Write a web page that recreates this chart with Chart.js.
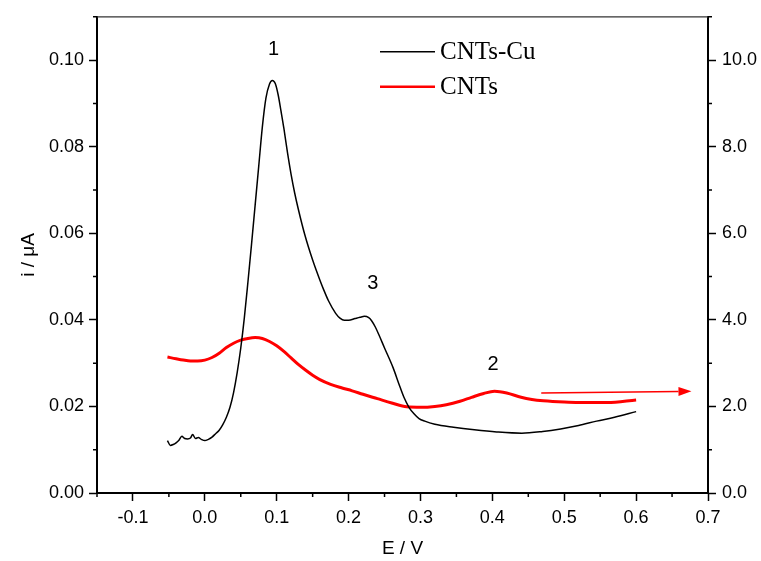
<!DOCTYPE html>
<html>
<head>
<meta charset="utf-8">
<script src="https://cdn.jsdelivr.net/npm/chart.js@4/dist/chart.umd.min.js"></script>
<style>
  html, body { margin: 0; padding: 0; background: #fff; }
  #wrap { width: 761px; height: 561px; }
</style>
</head>
<body>
<div id="wrap"><canvas id="c" width="761" height="561"></canvas></div>
<script>
// Differential pulse voltammograms: CNTs-Cu electrode (left axis) and bare CNTs (right axis)
const cuPotential = [
  -0.052, -0.048, -0.044, -0.040, -0.036, -0.032, -0.028, -0.024, -0.020, -0.017,
  -0.013, -0.009, -0.005, 0.000, 0.005, 0.010, 0.015, 0.020, 0.025, 0.030,
  0.035, 0.040, 0.045, 0.050, 0.055, 0.060, 0.065, 0.070, 0.075, 0.080,
  0.085, 0.090, 0.094, 0.098, 0.102, 0.106, 0.110, 0.115, 0.120, 0.125,
  0.130, 0.139, 0.150, 0.160, 0.165, 0.172, 0.182, 0.188, 0.194, 0.200,
  0.209, 0.216, 0.222, 0.228, 0.232, 0.237, 0.242, 0.250, 0.262, 0.270,
  0.277, 0.284, 0.291, 0.298, 0.306, 0.320, 0.346, 0.375, 0.406, 0.441,
  0.470, 0.495, 0.520, 0.545, 0.570, 0.600
];
const cuCurrent = [
  0.0121, 0.0110, 0.0112, 0.0116, 0.0122, 0.0131, 0.0126, 0.0125, 0.0127, 0.0135,
  0.0126, 0.0128, 0.0124, 0.0121, 0.0124, 0.0129, 0.0137, 0.0145, 0.0158, 0.0175,
  0.0198, 0.0232, 0.0278, 0.0335, 0.0405, 0.0488, 0.0575, 0.0665, 0.0755, 0.0845,
  0.0912, 0.0945, 0.0953, 0.0946, 0.0920, 0.0882, 0.0842, 0.0786, 0.0736, 0.0693,
  0.0656, 0.0597, 0.0538, 0.0492, 0.0471, 0.0444, 0.0415, 0.0404, 0.0399, 0.0399,
  0.0403, 0.0406, 0.0408, 0.0405, 0.0398, 0.0384, 0.0366, 0.0335, 0.0289, 0.0252,
  0.0221, 0.0198, 0.0183, 0.0172, 0.0166, 0.0159, 0.0152, 0.0146, 0.0141, 0.0138,
  0.0142, 0.0148, 0.0156, 0.0166, 0.0175, 0.0188
];

const cntPotential = [
  -0.052, -0.040, -0.030, -0.020, -0.010, 0.000, 0.010, 0.020, 0.030, 0.040,
  0.050, 0.060, 0.070, 0.080, 0.090, 0.100, 0.110, 0.120, 0.130, 0.140,
  0.150, 0.160, 0.175, 0.190, 0.205, 0.220, 0.240, 0.260, 0.281, 0.301,
  0.320, 0.336, 0.355, 0.371, 0.388, 0.403, 0.420, 0.440, 0.455, 0.471,
  0.500, 0.520, 0.560, 0.600
];
const cntCurrent = [
  3.14, 3.10, 3.07, 3.05, 3.05, 3.07, 3.13, 3.23, 3.36, 3.46,
  3.53, 3.57, 3.59, 3.57, 3.50, 3.40, 3.27, 3.12, 2.97, 2.84,
  2.72, 2.62, 2.51, 2.43, 2.36, 2.28, 2.18, 2.08, 1.99, 1.98,
  2.00, 2.04, 2.12, 2.21, 2.30, 2.35, 2.31, 2.21, 2.16, 2.13,
  2.10, 2.09, 2.09, 2.15
];

// tick values
const xTicks = [-0.1, 0.0, 0.1, 0.2, 0.3, 0.4, 0.5, 0.6, 0.7];
const xMinorTicks = [-0.15, -0.05, 0.05, 0.15, 0.25, 0.35, 0.45, 0.55, 0.65];
const leftTicks = [0.00, 0.02, 0.04, 0.06, 0.08, 0.10];
const leftMinorTicks = [0.01, 0.03, 0.05, 0.07, 0.09, 0.11];
const rightTicks = [0, 2, 4, 6, 8, 10];
const rightMinorTicks = [1, 3, 5, 7, 9, 11];

// peak numbers (potential, current on the left axis)
const peakNames = ['1', '3', '2'];
const peakPotential = [0.0955, 0.2336, 0.401];
const peakCurrent = [0.1025, 0.0484, 0.0296];

// arrow pointing the CNTs trace to the right-hand axis (potential, right-axis value)
const arrowPotential = [0.468, 0.677];
const arrowValue = [2.31, 2.35];

const seriesNames = ['CNTs-Cu', 'CNTs'];
const seriesColors = ['#000000', '#ff0000'];

const toPoints = (xs, ys) => xs.map((x, i) => ({ x: x, y: ys[i] }));

const TICK_FONT = { family: 'Liberation Sans, Arial, sans-serif', size: 18 };
const TITLE_FONT = { family: 'Liberation Sans, Arial, sans-serif', size: 19 };

const minorTicks = {
  id: 'minorTicks',
  afterDraw(chart) {
    const ctx = chart.ctx;
    const { x, y, y1 } = chart.scales;
    const area = chart.chartArea;
    ctx.save();
    ctx.strokeStyle = '#000';
    ctx.lineWidth = 1.5;
    ctx.beginPath();
    xMinorTicks.forEach(v => {
      const px = x.getPixelForValue(v);
      ctx.moveTo(px, area.bottom); ctx.lineTo(px, area.bottom + 4);
    });
    leftMinorTicks.forEach(v => {
      const py = y.getPixelForValue(v);
      ctx.moveTo(area.left, py); ctx.lineTo(area.left - 4, py);
    });
    rightMinorTicks.forEach(v => {
      const py = y1.getPixelForValue(v);
      ctx.moveTo(area.right, py); ctx.lineTo(area.right + 4, py);
    });
    ctx.stroke();
    // top frame line
    ctx.strokeStyle = '#333';
    ctx.lineWidth = 1.2;
    ctx.beginPath();
    ctx.moveTo(area.left, area.top);
    ctx.lineTo(area.right, area.top);
    ctx.stroke();
    ctx.restore();
  }
};

const notes = {
  id: 'notes',
  afterDatasetsDraw(chart) {
    const ctx = chart.ctx;
    const { x, y, y1 } = chart.scales;
    ctx.save();
    // peak numbers
    ctx.fillStyle = '#000';
    ctx.font = '20px "Liberation Sans", Arial, sans-serif';
    ctx.textAlign = 'center';
    ctx.textBaseline = 'middle';
    peakNames.forEach((t, i) => {
      ctx.fillText(t, x.getPixelForValue(peakPotential[i]), y.getPixelForValue(peakCurrent[i]));
    });
    // arrow
    const x0 = x.getPixelForValue(arrowPotential[0]);
    const y0 = y1.getPixelForValue(arrowValue[0]);
    const x1 = x.getPixelForValue(arrowPotential[1]);
    const yy1 = y1.getPixelForValue(arrowValue[1]);
    const ang = Math.atan2(yy1 - y0, x1 - x0);
    const headLen = 13, headHalf = 4.5;
    const bx = x1 - headLen * Math.cos(ang), by = yy1 - headLen * Math.sin(ang);
    ctx.strokeStyle = '#ff0000';
    ctx.fillStyle = '#ff0000';
    ctx.lineWidth = 1.5;
    ctx.beginPath();
    ctx.moveTo(x0, y0);
    ctx.lineTo(bx, by);
    ctx.stroke();
    ctx.beginPath();
    ctx.moveTo(x1, yy1);
    ctx.lineTo(bx - headHalf * Math.sin(ang), by + headHalf * Math.cos(ang));
    ctx.lineTo(bx + headHalf * Math.sin(ang), by - headHalf * Math.cos(ang));
    ctx.closePath();
    ctx.fill();
    // legend
    const area = chart.chartArea;
    const lx = area.left + 283, ly = area.top + 35, gap = 35;
    ctx.font = '25px "Liberation Serif", "Times New Roman", serif';
    ctx.textAlign = 'left';
    seriesNames.forEach((name, i) => {
      const yy = ly + i * gap;
      ctx.strokeStyle = seriesColors[i];
      ctx.lineWidth = i === 0 ? 1.5 : 2.5;
      ctx.beginPath();
      ctx.moveTo(lx, yy);
      ctx.lineTo(lx + 55, yy);
      ctx.stroke();
      ctx.fillStyle = '#000';
      ctx.fillText(name, lx + 60, yy + 1);
    });
    ctx.restore();
  }
};

new Chart(document.getElementById('c'), {
  type: 'line',
  data: {
    datasets: [
      {
        label: seriesNames[0],
        data: toPoints(cuPotential, cuCurrent),
        borderColor: seriesColors[0],
        borderWidth: 1.5,
        pointRadius: 0,
        cubicInterpolationMode: 'monotone',
        yAxisID: 'y'
      },
      {
        label: seriesNames[1],
        data: toPoints(cntPotential, cntCurrent),
        borderColor: seriesColors[1],
        borderWidth: 3,
        pointRadius: 0,
        cubicInterpolationMode: 'monotone',
        yAxisID: 'y1'
      }
    ]
  },
  options: {
    responsive: false,
    animation: false,
    devicePixelRatio: 1,
    layout: { padding: { top: 14, left: 0, right: 0, bottom: 0 } },
    plugins: { legend: { display: false }, tooltip: { enabled: false } },
    scales: {
      x: {
        type: 'linear',
        min: -0.15,
        max: 0.7,
        afterBuildTicks: s => { s.ticks = xTicks.map(v => ({ value: v })); },
        afterFit: s => { s.height = 68; },
        ticks: {
          font: TICK_FONT, color: '#000', padding: 6,
          callback: v => v.toFixed(1)
        },
        grid: { drawOnChartArea: false, drawTicks: true, tickLength: 8, tickWidth: 1.5, tickColor: '#000' },
        border: { display: true, color: '#000', width: 2 },
        title: { display: true, text: 'E / V', font: TITLE_FONT, color: '#000', padding: { top: 0, bottom: 1 } }
      },
      y: {
        type: 'linear',
        position: 'left',
        min: 0,
        max: 0.11,
        afterBuildTicks: s => { s.ticks = leftTicks.map(v => ({ value: v })); },
        afterFit: s => { s.width = 97; },
        ticks: {
          font: TICK_FONT, color: '#000', padding: 5,
          callback: v => v.toFixed(2)
        },
        grid: { drawOnChartArea: false, drawTicks: true, tickLength: 8, tickWidth: 1.5, tickColor: '#000' },
        border: { display: true, color: '#000', width: 2 },
        title: { display: true, text: 'i / \u03BCA', font: TITLE_FONT, color: '#000', padding: { top: 17, bottom: 0 } }
      },
      y1: {
        type: 'linear',
        position: 'right',
        min: 0,
        max: 11,
        afterBuildTicks: s => { s.ticks = rightTicks.map(v => ({ value: v })); },
        afterFit: s => { s.width = 53; },
        ticks: {
          font: TICK_FONT, color: '#000', padding: 6,
          callback: v => v.toFixed(1)
        },
        grid: { drawOnChartArea: false, drawTicks: true, tickLength: 8, tickWidth: 1.5, tickColor: '#000' },
        border: { display: true, color: '#000', width: 2 }
      }
    }
  },
  plugins: [minorTicks, notes]
});
</script>
</body>
</html>
